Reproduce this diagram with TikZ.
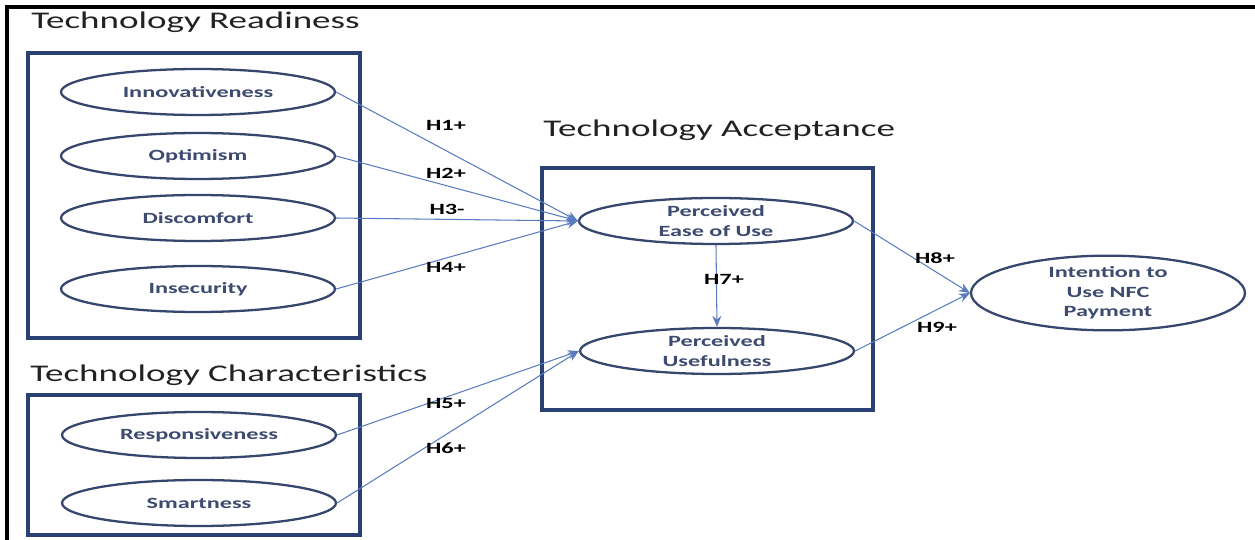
\documentclass[tikz,border=0pt]{standalone}
\usepackage{fontspec}
\setmainfont{Carlito}[FakeStretch=1.55]
\usetikzlibrary{shapes.geometric,arrows.meta}

\definecolor{boxblue}{HTML}{2B4072}
\definecolor{ellblue}{HTML}{36466C}
\definecolor{txtblue}{HTML}{3D4B70}
\definecolor{arrblue}{HTML}{5A7CBE}
\definecolor{titlegray}{HTML}{222222}

\tikzset{
  grouptitle/.style={anchor=base west, inner sep=0pt, text=titlegray,
    font=\fontsize{13.6}{16}\selectfont},
  groupbox/.style={draw=boxblue, line width=1.8pt},
  construct/.style={ellipse, draw=ellblue, line width=1.3pt, fill=white,
    minimum width=5.48cm, minimum height=0.92cm, inner sep=0pt,
    align=center, text=txtblue,
    font=\fontsize{8.9}{11.2}\selectfont\bfseries},
  hyp/.style={inner sep=0pt, text=black,
    font=\fontsize{8.9}{11}\selectfont\bfseries},
  path/.style={draw=arrblue, line width=0.6pt,
    -{Stealth[length=2.2mm,width=1.8mm]}},
}

\begin{document}
\begin{tikzpicture}[x=0.02cm, y=-0.02cm]
\useasboundingbox (0,0) rectangle (1255,540);

% outer frame (top and left edges)
\draw[line width=1.8pt, black] (7,540) -- (7,7) -- (1260,7);

% group titles
\node[grouptitle] (tTR) at (31,29)  {Technology Readiness};
\node[grouptitle] (tTA) at (543,137) {Technology Acceptance};
\node[grouptitle] (tTC) at (30,382) {Technology Characteristics};

% group boxes
\draw[groupbox] (28,53)  rectangle (360,338);
\draw[groupbox] (28,395) rectangle (360,535);
\draw[groupbox] (542,168) rectangle (873,410);

% technology readiness constructs
\node[construct] (inno) at (198,92)  {Innovativeness};
\node[construct] (opti) at (198,156) {Optimism};
\node[construct] (disc) at (198,218) {Discomfort};
\node[construct] (inse) at (198,289) {Insecurity};

% technology characteristics constructs
\node[construct] (resp) at (199,435) {Responsiveness};
\node[construct] (smar) at (199,503) {Smartness};

% technology acceptance constructs
\node[construct] (peou) at (716,221) {Perceived\\Ease of Use};
\node[construct] (pu)   at (717,351) {Perceived\\Usefulness};

% outcome
\node[construct, minimum height=1.32cm] (nfc) at (1108,293)
  {Intention to\\Use NFC\\Payment};

% hypothesised paths
\draw[path] (inno.east) -- (peou.west);
\draw[path] (opti.east) -- (peou.west);
\draw[path] (disc.east) -- (peou.west);
\draw[path] (inse.east) -- (peou.west);
\draw[path] (resp.east) -- (pu.west);
\draw[path] (smar.east) -- (pu.west);
\draw[path] (peou.south) -- (pu.north);
\draw[path] (peou.east) -- (nfc.west);
\draw[path] (pu.east) -- (nfc.west);

% path labels
\node[hyp] (h1) at (446,125) {H1+};
\node[hyp] (h2) at (446,173) {H2+};
\node[hyp] (h3) at (447,209) {H3-};
\node[hyp] (h4) at (446,267) {H4+};
\node[hyp] (h5) at (446,403) {H5+};
\node[hyp] (h6) at (446,448) {H6+};
\node[hyp] (h7) at (724,279) {H7+};
\node[hyp] (h8) at (935,258) {H8+};
\node[hyp] (h9) at (937,327) {H9+};
\end{tikzpicture}
\end{document}
